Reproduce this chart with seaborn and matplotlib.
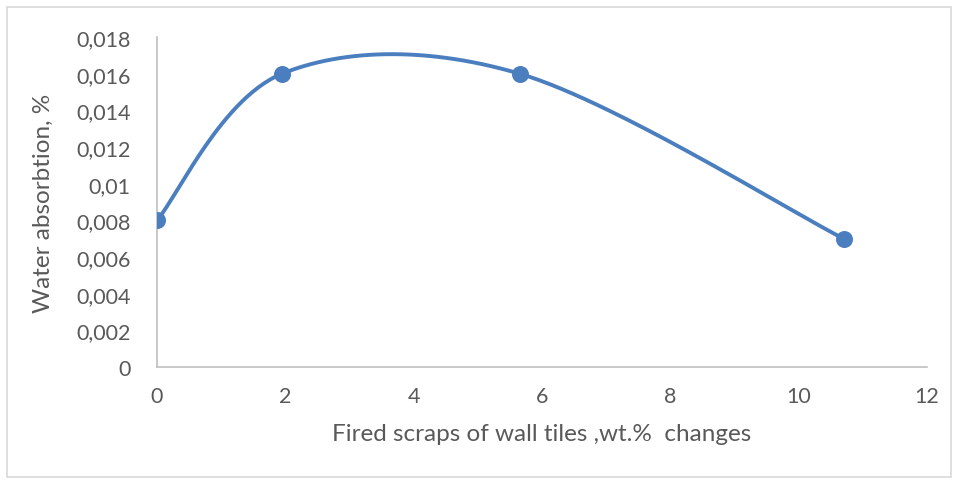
import numpy as np
import pandas as pd
import matplotlib
matplotlib.use("Agg")
import matplotlib.pyplot as plt
import seaborn as sns
from matplotlib.ticker import FuncFormatter
from matplotlib.patches import Rectangle

# Данные
scrap_pct = [0.0, 1.95, 5.65, 10.7]
water_abs = [0.008, 0.016, 0.016, 0.007]

x_ticks = [0, 2, 4, 6, 8, 10, 12]
y_ticks = [0, 0.002, 0.004, 0.006, 0.008, 0.01, 0.012, 0.014, 0.016, 0.018]

x_label = "Fired scraps of wall tiles ,wt.%  changes"
y_label = "Water absorbtion, %"

LINE_COLOR = "#4A7EBF"
TEXT_COLOR = "#595959"
GRID_COLOR = "#BFBFBF"


def excel_smooth(xs, ys, n=60):
    """Сглаживание как в Excel: кубические Безье по соседним точкам"""
    pts = np.column_stack([xs, ys])
    padded = np.vstack([pts[0], pts, pts[-1]])
    out = []
    t = np.linspace(0, 1, n)[:, None]
    for i in range(len(pts) - 1):
        p0, p1, p2, p3 = padded[i], padded[i + 1], padded[i + 2], padded[i + 3]
        c1 = p1 + (p2 - p0) / 6
        c2 = p2 - (p3 - p1) / 6
        seg = ((1 - t) ** 3) * p1 + 3 * ((1 - t) ** 2) * t * c1 + 3 * (1 - t) * t ** 2 * c2 + t ** 3 * p2
        out.append(seg if i == 0 else seg[1:])
    out = np.vstack(out)
    return out[:, 0], out[:, 1]


sx, sy = excel_smooth(scrap_pct, water_abs)
curve = pd.DataFrame({"x": sx, "y": sy})
points = pd.DataFrame({"x": scrap_pct, "y": water_abs})

sns.set_style("white")
plt.rcParams['font.family'] = ['Lato', 'DejaVu Sans']

fig = plt.figure(figsize=(9.55, 4.81), dpi=100)
ax = fig.add_axes([0.1644, 0.2349, 0.8063, 0.6861])

sns.lineplot(data=curve, x="x", y="y", ax=ax, color=LINE_COLOR, linewidth=2.8,
             sort=False, estimator=None)
sns.scatterplot(data=points, x="x", y="y", ax=ax, color=LINE_COLOR, s=150,
                edgecolor=LINE_COLOR, linewidth=0, zorder=5)

ax.set_xlim(0, 12)
ax.set_ylim(0, 0.018)
ax.set_xticks(x_ticks)
ax.set_yticks(y_ticks)
fmt = FuncFormatter(lambda v, p: f"{round(v, 6):g}".replace('.', ','))
ax.xaxis.set_major_formatter(fmt)
ax.yaxis.set_major_formatter(fmt)

ax.tick_params(axis='both', length=0, labelsize=15.5, labelcolor=TEXT_COLOR)
ax.tick_params(axis='y', pad=19)
ax.tick_params(axis='x', pad=14)

for side in ['top', 'right']:
    ax.spines[side].set_visible(False)
for side in ['left', 'bottom']:
    ax.spines[side].set_color(GRID_COLOR)
    ax.spines[side].set_linewidth(1.2)

ax.set_xlabel(x_label, fontsize=17.5, color=TEXT_COLOR, labelpad=12)
ax.set_ylabel(y_label, fontsize=17.5, color=TEXT_COLOR, labelpad=16)

# Рамка вокруг диаграммы
fig.patches.append(Rectangle((7 / 955, 3 / 481), 944 / 955, 470 / 481,
                             transform=fig.transFigure, fill=False,
                             edgecolor="#D9D9D9", linewidth=1.2))

fig.savefig("out.png", dpi=100)
